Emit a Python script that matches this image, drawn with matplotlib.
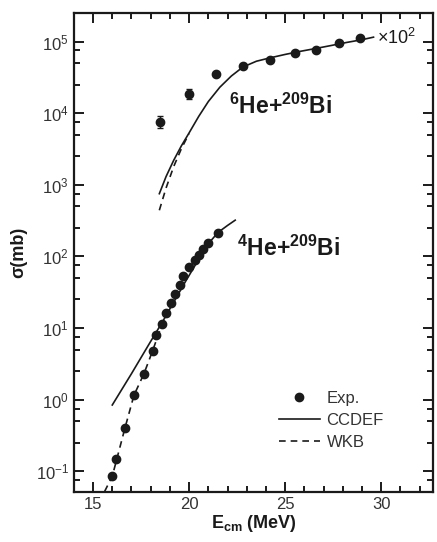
import matplotlib
matplotlib.use("Agg")
import matplotlib.pyplot as plt
from matplotlib.ticker import LogLocator, MultipleLocator, NullFormatter

plt.rcParams['font.family'] = ['Liberation Sans', 'DejaVu Sans']
plt.rcParams['mathtext.fontset'] = 'custom'
plt.rcParams['mathtext.rm'] = 'Liberation Sans'
plt.rcParams['mathtext.bf'] = 'Liberation Sans:bold'
plt.rcParams['mathtext.it'] = 'Liberation Sans:italic'

# 6He+209Bi (valores multiplicados por 10^2)
e_6he = [18.5, 20.0, 21.4, 22.8, 24.2, 25.5, 26.6, 27.8, 28.9]
s_6he = [7.6e3, 1.85e4, 3.5e4, 4.6e4, 5.6e4, 7.0e4, 7.7e4, 9.6e4, 1.12e5]
err_6he = [1.5e3, 3.0e3, 2.5e3, 2.5e3, 2.5e3, 3.0e3, 3.0e3, 3.5e3, 4.0e3]
ccdef_6he_e = [18.45, 18.8, 19.2, 19.6, 20.0, 20.5, 21.0, 21.6, 22.2, 22.8, 23.5, 24.2, 25.0, 25.8, 26.6, 27.4, 28.2, 29.0, 29.6]
ccdef_6he_s = [7.5e2, 1.3e3, 2.2e3, 3.5e3, 5.3e3, 9.0e3, 1.45e4, 2.3e4, 3.3e4, 4.4e4, 5.3e4, 5.9e4, 6.6e4, 7.3e4, 8.0e4, 8.8e4, 9.7e4, 1.06e5, 1.15e5]
wkb_6he_e = [18.45, 18.8, 19.2, 19.6, 20.0]
wkb_6he_s = [4.4e2, 9.0e2, 1.8e3, 3.2e3, 5.2e3]

# 4He+209Bi
e_4he = [15.98, 16.2, 16.66, 17.13, 17.65, 18.1, 18.3, 18.6, 18.8, 19.05, 19.25,
         19.5, 19.7, 20.0, 20.3, 20.5, 20.7, 20.97, 21.5]
s_4he = [0.085, 0.15, 0.40, 1.15, 2.3, 4.8, 8.0, 11.5, 16, 22, 30,
         40, 54, 71, 90, 105, 125, 155, 215]
ccdef_4he_e = [16.0, 17.0, 18.0, 18.6, 19.2, 19.8, 20.4, 21.0, 21.5, 22.0, 22.4]
ccdef_4he_s = [0.84, 2.3, 6.5, 12.0, 23, 44, 82, 150, 215, 270, 320]
wkb_4he_e = [15.6, 16.0, 16.66, 17.13, 17.65, 18.1, 18.6, 19.2]
wkb_4he_s = [0.052, 0.085, 0.40, 1.15, 2.3, 4.8, 11.5, 23]

fig = plt.figure(figsize=(4.37, 5.42), dpi=100)
ax = fig.add_axes([0.169, 0.092, 0.822, 0.884])

cor = '#1a1a1a'
ax.plot(ccdef_6he_e, ccdef_6he_s, '-', color=cor, lw=1.2)
ax.plot(wkb_6he_e, wkb_6he_s, '--', color=cor, lw=1.2, dashes=(4, 3))
ax.errorbar(e_6he, s_6he, yerr=err_6he, fmt='o', color=cor, ms=6, capsize=2, elinewidth=1)

ax.plot(ccdef_4he_e, ccdef_4he_s, '-', color=cor, lw=1.2, label='CCDEF')
ax.plot(wkb_4he_e, wkb_4he_s, '--', color=cor, lw=1.2, dashes=(4, 3), label='WKB')
ax.plot(e_4he, s_4he, 'o', color=cor, ms=6, label='Exp.')

ax.set_yscale('log')
ax.set_xlim(14.0, 32.7)
ax.set_ylim(0.051, 2.5e5)

ax.xaxis.set_major_locator(MultipleLocator(5))
ax.xaxis.set_minor_locator(MultipleLocator(1))
ax.yaxis.set_major_locator(LogLocator(base=10, numticks=20))
ax.yaxis.set_minor_locator(LogLocator(base=10, subs=[2.5, 5, 7.5], numticks=20))
ax.yaxis.set_minor_formatter(NullFormatter())

ax.tick_params(which='both', direction='in', top=True, right=True, colors=cor,
               labelcolor='#333333', labelsize=12, width=1.4)
ax.tick_params(which='major', length=7)
ax.tick_params(which='minor', length=4)
for s in ax.spines.values():
    s.set_linewidth(1.6)
    s.set_color(cor)

ax.set_xlabel(r'$\mathbf{E_{cm}}$ (MeV)', fontsize=13, fontweight='bold', color=cor, labelpad=1)
ax.set_ylabel('σ(mb)', fontsize=13, fontweight='bold', color=cor, labelpad=6)

ax.text(29.8, 1.12e5, r'$\times 10^{2}$', fontsize=13, color=cor, va='center')
ax.text(22.1, 1.25e4, r'$\mathbf{^{6}He{+}^{209}Bi}$', fontsize=16.5, color=cor, va='center')
ax.text(22.5, 1.3e2, r'$\mathbf{^{4}He{+}^{209}Bi}$', fontsize=16.5, color=cor, va='center')

handles, labels = ax.get_legend_handles_labels()
order = [2, 0, 1]
ax.legend([handles[i] for i in order], [labels[i] for i in order],
          loc='upper left', bbox_to_anchor=(0.571, 0.211), frameon=False,
          borderpad=0, borderaxespad=0,
          fontsize=12, handlelength=2.45, handletextpad=0.4, labelspacing=0.42,
          labelcolor='#333333')

fig.savefig('out.png', dpi=100)
